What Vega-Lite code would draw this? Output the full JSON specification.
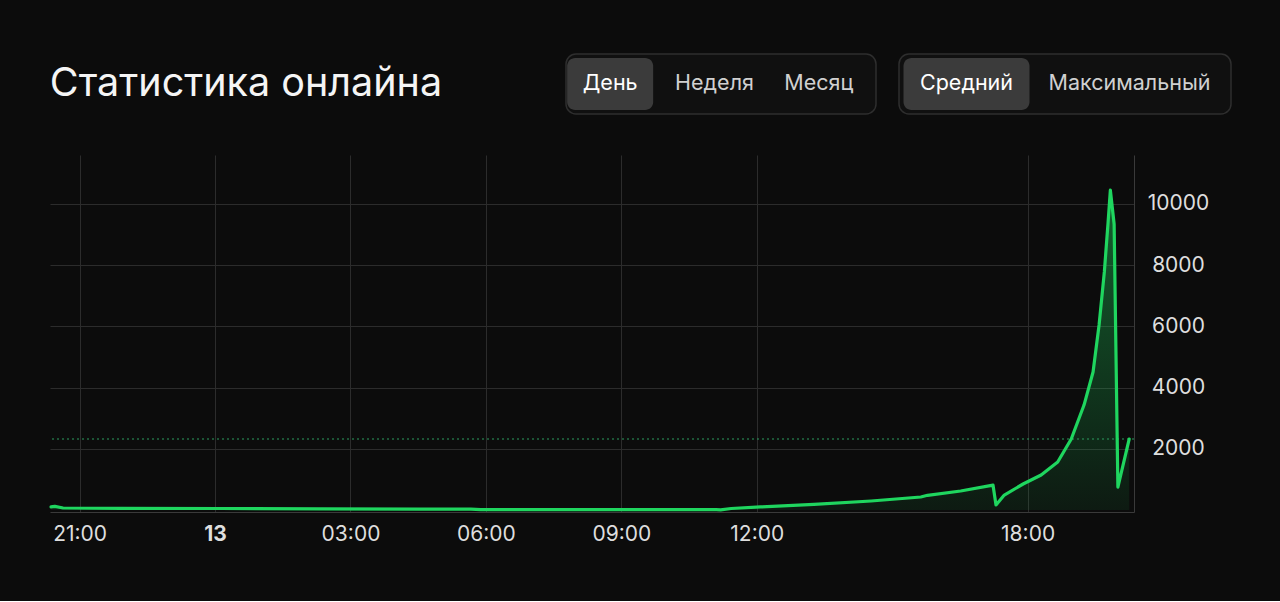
{
  "$schema": "https://vega.github.io/schema/vega-lite/v6.json",
  "background": "#0c0c0c",
  "padding": {"left": 49, "top": 53, "right": 51, "bottom": 57},
  "config": {"view": {"stroke": null}, "font": "Inter"},
  "datasets": {
    "heading": [{"text": "Статистика онлайна"}],
    "buttons": [
      {"group": "period", "label": "День", "selected": true},
      {"group": "period", "label": "Неделя", "selected": false},
      {"group": "period", "label": "Месяц", "selected": false},
      {"group": "mode", "label": "Средний", "selected": true},
      {"group": "mode", "label": "Максимальный", "selected": false}
    ],
    "online": [
      {"t": "2024-01-12 20:22", "v": 100},
      {"t": "2024-01-12 20:27", "v": 120},
      {"t": "2024-01-12 20:38", "v": 65},
      {"t": "2024-01-12 21:55", "v": 55},
      {"t": "2024-01-13 00:08", "v": 50},
      {"t": "2024-01-13 02:21", "v": 40},
      {"t": "2024-01-13 04:34", "v": 30},
      {"t": "2024-01-13 05:40", "v": 30},
      {"t": "2024-01-13 05:53", "v": 12},
      {"t": "2024-01-13 08:59", "v": 10},
      {"t": "2024-01-13 11:06", "v": 15},
      {"t": "2024-01-13 11:12", "v": 5},
      {"t": "2024-01-13 11:26", "v": 50},
      {"t": "2024-01-13 12:05", "v": 100},
      {"t": "2024-01-13 13:16", "v": 185},
      {"t": "2024-01-13 14:32", "v": 295},
      {"t": "2024-01-13 15:38", "v": 425},
      {"t": "2024-01-13 15:47", "v": 480},
      {"t": "2024-01-13 16:31", "v": 620},
      {"t": "2024-01-13 17:14", "v": 815},
      {"t": "2024-01-13 17:18", "v": 165},
      {"t": "2024-01-13 17:29", "v": 490},
      {"t": "2024-01-13 17:54", "v": 850},
      {"t": "2024-01-13 18:18", "v": 1145},
      {"t": "2024-01-13 18:40", "v": 1570},
      {"t": "2024-01-13 18:58", "v": 2320},
      {"t": "2024-01-13 19:15", "v": 3430},
      {"t": "2024-01-13 19:27", "v": 4510},
      {"t": "2024-01-13 19:35", "v": 6045},
      {"t": "2024-01-13 19:42", "v": 7780},
      {"t": "2024-01-13 19:47", "v": 9410},
      {"t": "2024-01-13 19:50", "v": 10455},
      {"t": "2024-01-13 19:55", "v": 9345},
      {"t": "2024-01-13 20:00", "v": 750},
      {"t": "2024-01-13 20:15", "v": 2320}
    ]
  },
  "spacing": 40,
  "vconcat": [
    {
      "spacing": 122,
      "hconcat": [
        {
          "data": {"name": "heading"},
          "width": 392,
          "height": 60,
          "mark": {"type": "text", "fontSize": 39.5, "color": "#f5f5f5", "font": "Inter", "fontWeight": 400},
          "encoding": {"text": {"field": "text"}}
        },
        {
          "spacing": 21,
          "hconcat": [
            {
              "data": {"name": "buttons"},
              "transform": [{"filter": "datum.group === 'period'"}],
              "width": 310,
              "height": 60,
              "view": {"fill": "#101010", "stroke": "#2e2e2e", "strokeWidth": 1.5, "cornerRadius": 10},
              "encoding": {
                "x": {"field": "label", "type": "nominal", "scale": {"type": "band", "domain": ["День", "Неделя", "Месяц"], "range": [-8, 305], "paddingInner": 0, "paddingOuter": 0}, "axis": null},
                "y": {"field": "group", "type": "nominal", "scale": {"type": "band", "paddingInner": 0, "paddingOuter": 0.077}, "axis": null}
              },
              "layer": [
                {"transform": [{"filter": "datum.selected"}], "mark": {"type": "rect", "width": 86, "cornerRadius": 8, "color": "#3b3b3b"}},
                {"mark": {"type": "text", "fontSize": 21.5, "font": "Inter"}, "encoding": {"text": {"field": "label"}, "color": {"condition": {"test": "datum.selected", "value": "#ffffff"}, "value": "#d0d0d0"}}}
              ]
            },
            {
              "data": {"name": "buttons"},
              "transform": [{"filter": "datum.group === 'mode'"}],
              "width": 332,
              "height": 60,
              "view": {"fill": "#101010", "stroke": "#2e2e2e", "strokeWidth": 1.5, "cornerRadius": 10},
              "encoding": {
                "x": {"field": "label", "type": "nominal", "scale": {"type": "band", "domain": ["Средний", "Максимальный"], "range": [-14, 312], "paddingInner": 0, "paddingOuter": 0}, "axis": null},
                "y": {"field": "group", "type": "nominal", "scale": {"type": "band", "paddingInner": 0, "paddingOuter": 0.077}, "axis": null}
              },
              "layer": [
                {"transform": [{"filter": "datum.selected"}], "mark": {"type": "rect", "width": 126, "cornerRadius": 8, "color": "#3b3b3b"}},
                {"mark": {"type": "text", "fontSize": 21.5, "font": "Inter"}, "encoding": {"text": {"field": "label"}, "color": {"condition": {"test": "datum.selected", "value": "#ffffff"}, "value": "#d0d0d0"}}}
              ]
            }
          ]
        }
      ]
    },
    {
      "data": {"name": "online"},
      "width": 1084,
      "height": 357,
      "layer": [
        {
          "mark": {"type": "area", "interpolate": "linear", "color": {"gradient": "linear", "x1": 0, "y1": 0, "x2": 0, "y2": 1, "stops": [{"offset": 0, "color": "rgba(31,214,95,0.42)"}, {"offset": 1, "color": "rgba(31,214,95,0.07)"}]}},
          "encoding": {
            "x": {
              "field": "t", "type": "temporal", "title": null,
              "scale": {"type": "time", "nice": false,
                "domain": [
                  {"year": 2024, "month": 1, "date": 12, "hours": 20, "minutes": 20, "seconds": 36},
                  {"year": 2024, "month": 1, "date": 13, "hours": 20, "minutes": 21, "seconds": 25}
                ]},
              "axis": {
                "values": [
                  {"year": 2024, "month": 1, "date": 12, "hours": 21, "minutes": 0},
                  {"year": 2024, "month": 1, "date": 13, "hours": 0, "minutes": 0},
                  {"year": 2024, "month": 1, "date": 13, "hours": 3, "minutes": 0},
                  {"year": 2024, "month": 1, "date": 13, "hours": 6, "minutes": 0},
                  {"year": 2024, "month": 1, "date": 13, "hours": 9, "minutes": 0},
                  {"year": 2024, "month": 1, "date": 13, "hours": 12, "minutes": 0},
                  {"year": 2024, "month": 1, "date": 13, "hours": 18, "minutes": 0}
                ],
                "labelExpr": "hours(datum.value) == 0 ? timeFormat(datum.value, '%d') : timeFormat(datum.value, '%H:%M')",
                "labelFontWeight": {"condition": {"test": "hours(datum.value) == 0", "value": 700}, "value": 400},
                "grid": true, "gridColor": "#2c2c2c", "gridWidth": 1,
                "domain": true, "domainColor": "#3a3a3a", "domainWidth": 1,
                "ticks": false, "tickSize": 0,
                "labelPadding": 11, "labelFontSize": 21, "labelColor": "#dedede", "labelFont": "Inter",
                "labelFlush": false, "labelOverlap": false, "title": null
              }
            },
            "y": {
              "field": "v", "type": "quantitative", "title": null,
              "scale": {"domain": [-65, 11601], "nice": false, "zero": false},
              "axis": {
                "orient": "right", "values": [2000, 4000, 6000, 8000, 10000], "format": "d",
                "grid": true, "gridColor": "#2c2c2c", "gridWidth": 1,
                "domain": true, "domainColor": "#3a3a3a", "domainWidth": 1,
                "ticks": false, "tickSize": 0,
                "labelPadding": 44, "labelAlign": "center", "labelFontSize": 21, "labelColor": "#dedede", "labelFont": "Inter",
                "title": null
              }
            }
          }
        },
        {
          "transform": [{"aggregate": [{"op": "argmax", "field": "t", "as": "last"}]}],
          "mark": {"type": "rule", "color": "#2c9b5e", "strokeDash": [2, 3], "strokeWidth": 1.2},
          "encoding": {
            "y": {"field": "last.v", "type": "quantitative", "title": null, "scale": {"domain": [-65, 11601], "nice": false, "zero": false}}
          }
        },
        {
          "mark": {"type": "line", "interpolate": "linear", "color": "#1fd65f", "strokeWidth": 3.2, "strokeJoin": "round", "strokeCap": "round"},
          "encoding": {
            "x": {"field": "t", "type": "temporal", "title": null},
            "y": {"field": "v", "type": "quantitative", "title": null, "scale": {"domain": [-65, 11601], "nice": false, "zero": false}}
          }
        }
      ]
    }
  ]
}
